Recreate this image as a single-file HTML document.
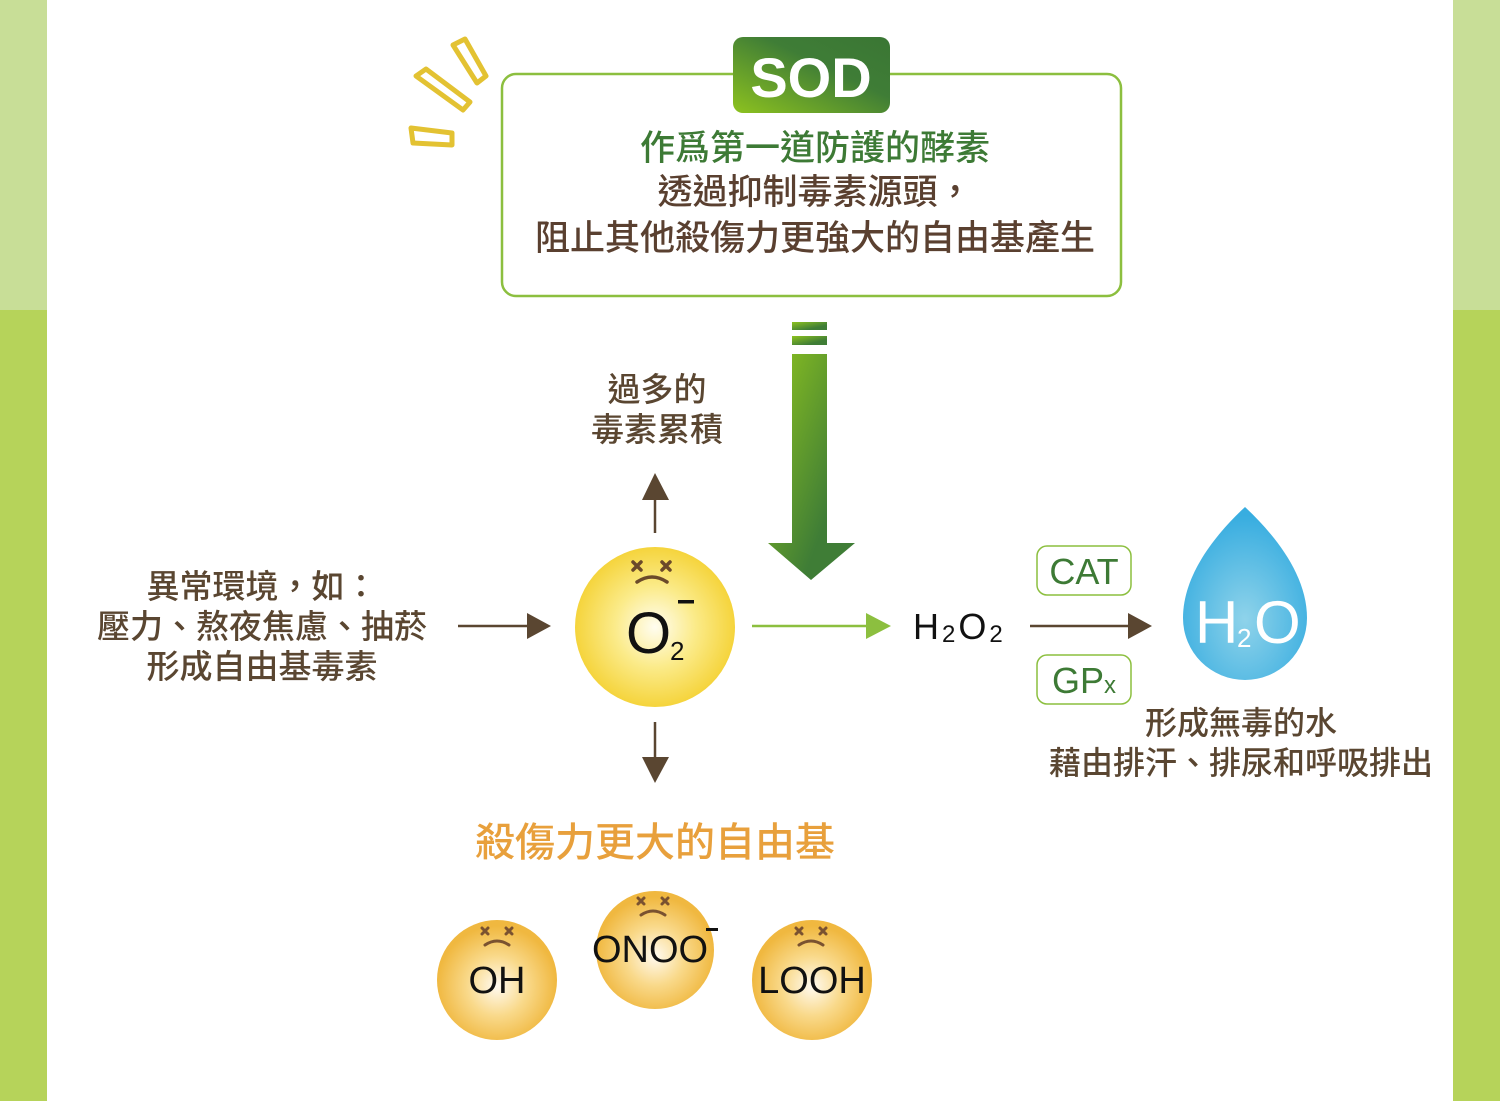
<!DOCTYPE html>
<html><head><meta charset="utf-8"><style>
html,body{margin:0;padding:0;background:#fff}
svg{display:block}
text{font-family:"Liberation Sans","Noto Sans CJK TC",sans-serif}
.cjk{font-family:"Noto Sans CJK TC","Liberation Sans",sans-serif;font-weight:500}
</style></head><body>
<svg width="1500" height="1101" viewBox="0 0 1500 1101" xmlns="http://www.w3.org/2000/svg">
<defs>
<linearGradient id="sod" x1="0" y1="1" x2="1" y2="0"><stop offset="0" stop-color="#8dc21f"/><stop offset="0.6" stop-color="#3f7d36"/><stop offset="1" stop-color="#3a7634"/></linearGradient>
<linearGradient id="arr" x1="0" y1="0" x2="1" y2="1"><stop offset="0" stop-color="#8dc21f"/><stop offset="0.7" stop-color="#3f7d36"/></linearGradient>
<radialGradient id="yel" cx="0.5" cy="0.5" r="0.5"><stop offset="0" stop-color="#fffdf0"/><stop offset="0.5" stop-color="#fbeb8a"/><stop offset="1" stop-color="#f5d43c"/></radialGradient>
<radialGradient id="org" cx="0.5" cy="0.55" r="0.5"><stop offset="0" stop-color="#fffaf0"/><stop offset="0.5" stop-color="#f9d98a"/><stop offset="1" stop-color="#f0b840"/></radialGradient>
<radialGradient id="drop" cx="0.5" cy="0.65" r="0.6"><stop offset="0" stop-color="#8fd3ea"/><stop offset="1" stop-color="#38ade0"/></radialGradient>
</defs>
<rect x="0" y="0" width="47" height="310" fill="#c8de97"/>
<rect x="0" y="310" width="47" height="791" fill="#b6d35a"/>
<rect x="1453" y="0" width="47" height="310" fill="#c8de97"/>
<rect x="1453" y="310" width="47" height="791" fill="#b6d35a"/>
<g fill="none" stroke="#e3c232" stroke-width="5" stroke-linejoin="round">
<polygon points="453,45 465,39 486,76 477,83"/>
<polygon points="416,76 426,69 470,102 463,110"/>
<polygon points="411,128 452,133 452,145 413,143"/>
</g>
<rect x="502" y="74" width="619" height="222" rx="14" fill="#fff" stroke="#8cbf3f" stroke-width="2.5"/>
<rect x="733" y="37" width="157" height="76" rx="10" fill="url(#sod)"/>
<text x="811" y="97" text-anchor="middle" font-size="56" font-weight="bold" fill="#fff">SOD</text>
<text class="cjk" x="815" y="160" text-anchor="middle" font-size="35" fill="#3d7a35">作爲第一道防護的酵素</text>
<text class="cjk" x="815" y="204" text-anchor="middle" font-size="35" fill="#5a4030">透過抑制毒素源頭，</text>
<text class="cjk" x="815" y="250" text-anchor="middle" font-size="35" fill="#5a4030">阻止其他殺傷力更強大的自由基產生</text>
<g fill="url(#arr)">
<rect x="792" y="322" width="35" height="8"/>
<rect x="792" y="336" width="35" height="9"/>
<polygon points="792,354 827,354 827,543 855,543 811,580 768,543 792,543"/>
</g>
<text class="cjk" x="657" y="401" text-anchor="middle" font-size="33" fill="#5a4631">過多的</text>
<text class="cjk" x="657" y="441" text-anchor="middle" font-size="33" fill="#5a4631">毒素累積</text>
<g stroke="#5a4631" stroke-width="2.5" fill="#5a4631">
<line x1="655" y1="533" x2="655" y2="496"/>
<polygon points="642,500 669,500 655,473" stroke="none"/>
<line x1="655" y1="722" x2="655" y2="760"/>
<polygon points="642,757 669,757 655,783" stroke="none"/>
<line x1="458" y1="626" x2="530" y2="626"/>
<polygon points="527,613 527,639 551,626" stroke="none"/>
<line x1="1030" y1="626" x2="1130" y2="626"/>
<polygon points="1128,613 1128,639 1152,626" stroke="none"/>
</g>
<line x1="752" y1="626" x2="870" y2="626" stroke="#8cbf3f" stroke-width="2.5"/>
<polygon points="866,613 866,639 891,626" fill="#8cbf3f"/>
<text class="cjk" x="262" y="598" text-anchor="middle" font-size="33" fill="#5a4631">異常環境，如：</text>
<text class="cjk" x="262" y="638" text-anchor="middle" font-size="33" fill="#5a4631">壓力、熬夜焦慮、抽菸</text>
<text class="cjk" x="262" y="678" text-anchor="middle" font-size="33" fill="#5a4631">形成自由基毒素</text>
<circle cx="655" cy="627" r="80" fill="url(#yel)"/>
<g stroke="#6b4a2a" stroke-width="3.5" fill="none" stroke-linecap="round">
<path d="M633,562 l8,8 M641,562 l-8,8 M662,562 l8,8 M670,562 l-8,8"/>
<path d="M637,582 q15,-10 30,0"/>
</g>
<text x="626" y="653" font-size="58" fill="#111">O</text>
<text x="670" y="660" font-size="26" fill="#111">2</text>
<rect x="678" y="600" width="16" height="3.5" fill="#111"/>
<text x="913" y="639" font-size="36" fill="#111" letter-spacing="3">H<tspan font-size="24" dy="3">2</tspan><tspan dy="-3">O</tspan><tspan font-size="24" dy="3">2</tspan></text>
<rect x="1037" y="546" width="94" height="49" rx="10" fill="#fff" stroke="#8cbf3f" stroke-width="1.5"/>
<text x="1084" y="584" text-anchor="middle" font-size="36" fill="#3d7a35">CAT</text>
<rect x="1037" y="655" width="94" height="49" rx="10" fill="#fff" stroke="#8cbf3f" stroke-width="1.5"/>
<text x="1052" y="693" font-size="36" fill="#3d7a35">GP<tspan font-size="24">x</tspan></text>
<path d="M1245,507 C1275,535 1307,575 1307,618 A62,62 0 0 1 1183,618 C1183,575 1215,535 1245,507 Z" fill="url(#drop)"/>
<text x="1195" y="643" font-size="60" fill="#fff">H</text>
<text x="1237" y="647" font-size="26" fill="#fff">2</text>
<text x="1254" y="643" font-size="60" fill="#fff">O</text>
<text class="cjk" x="1241" y="734" text-anchor="middle" font-size="32" fill="#5a4631">形成無毒的水</text>
<text class="cjk" x="1241" y="774" text-anchor="middle" font-size="32" fill="#5a4631">藉由排汗、排尿和呼吸排出</text>
<text class="cjk" x="655" y="856" text-anchor="middle" font-size="40" fill="#e8a03c">殺傷力更大的自由基</text>
<circle cx="497" cy="980" r="60" fill="url(#org)"/>
<circle cx="655" cy="950" r="59" fill="url(#org)"/>
<circle cx="812" cy="980" r="60" fill="url(#org)"/>
<g stroke="#7a5230" stroke-width="3" fill="none" stroke-linecap="round">
<path d="M482,928 l6,6 M488,928 l-6,6 M506,928 l6,6 M512,928 l-6,6 M485,945 q12,-8 24,0"/>
<path d="M638,898 l6,6 M644,898 l-6,6 M662,898 l6,6 M668,898 l-6,6 M641,915 q12,-8 24,0"/>
<path d="M796,928 l6,6 M802,928 l-6,6 M820,928 l6,6 M826,928 l-6,6 M799,945 q12,-8 24,0"/>
</g>
<text x="497" y="993" text-anchor="middle" font-size="38" fill="#111">OH</text>
<text x="650" y="962" text-anchor="middle" font-size="38" fill="#111">ONOO</text>
<rect x="706" y="928" width="12" height="3" fill="#111"/>
<text x="812" y="993" text-anchor="middle" font-size="38" fill="#111">LOOH</text>
</svg>
</body></html>
